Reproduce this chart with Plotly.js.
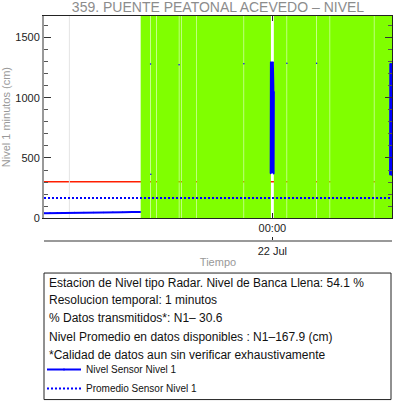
<!DOCTYPE html>
<html><head><meta charset="utf-8">
<script src="https://cdn.plot.ly/plotly-3.0.1.min.js"></script>
<style>html,body{margin:0;padding:0;background:#fff}#chart{width:394px;height:404px}</style>
</head><body><div id="chart"></div>
<script>
const chartTitle = '359. PUENTE PEATONAL ACEVEDO – NIVEL';
const timeRange = ['2024-07-21 08:15', '2024-07-22 08:15'];
const tickTimes = ['2024-07-22 00:00'];
const tickHour = ['00:00'];
const tickDay = ['22 Jul'];
const levelTicks = [0, 500, 1000, 1500];
const levelRange = [0, 1678];

const sensorTimes = [
  '2024-07-21 08:15','2024-07-21 08:40','2024-07-21 09:10','2024-07-21 09:40','2024-07-21 10:20',
  '2024-07-21 11:00','2024-07-21 11:40','2024-07-21 12:20','2024-07-21 13:00','2024-07-21 13:40',
  '2024-07-21 14:20','2024-07-21 14:54','2024-07-21 14:56',
  '2024-07-21 15:36','2024-07-21 15:36:30','2024-07-21 15:37','2024-07-21 15:38',
  '2024-07-21 17:34','2024-07-21 17:35',
  '2024-07-21 22:02','2024-07-21 22:03',
  '2024-07-21 23:53','2024-07-21 23:54','2024-07-21 23:55','2024-07-21 23:56','2024-07-21 23:57',
  '2024-07-21 23:58','2024-07-21 23:59','2024-07-22 00:00','2024-07-22 00:01','2024-07-22 00:02',
  '2024-07-22 00:03','2024-07-22 00:04','2024-07-22 00:05','2024-07-22 00:06','2024-07-22 00:07',
  '2024-07-22 01:00','2024-07-22 01:01',
  '2024-07-22 03:03','2024-07-22 03:04',
  '2024-07-22 08:07','2024-07-22 08:08','2024-07-22 08:09','2024-07-22 08:10','2024-07-22 08:11',
  '2024-07-22 08:12','2024-07-22 08:13','2024-07-22 08:14','2024-07-22 08:15'
];
const sensorLevels = [
  42, 43, 45, 46, 47,
  47, 48, 48, 49, 50,
  51, 52, null,
  1279, null, 364, null,
  1273, null,
  1281, null,
  372, 1297, 380, 1240, 420,
  1290, 560, 1180, 380, 1297,
  600, 1100, 370, 1050, null,
  1287, null,
  1285, null,
  360, 1281, 365, 1270, 400,
  1281, 358, 1200, 380
];
const meanLevel = 167.9;
const bankFullLevel = 303;

const missingStarts = [
  '2024-07-21 14:55','2024-07-21 15:37','2024-07-21 16:02','2024-07-21 17:35','2024-07-21 17:46',
  '2024-07-21 18:48','2024-07-21 22:03','2024-07-22 00:06','2024-07-22 01:01','2024-07-22 03:04',
  '2024-07-22 03:59','2024-07-22 07:02'
];
const missingEnds = [
  '2024-07-21 15:35','2024-07-21 16:00','2024-07-21 17:33','2024-07-21 17:44','2024-07-21 18:46',
  '2024-07-21 22:01','2024-07-21 23:54','2024-07-22 00:59','2024-07-22 03:02','2024-07-22 03:57',
  '2024-07-22 07:00','2024-07-22 08:15'
];
const markTimes = ['2024-07-21 10:00'];

const infoLines = [
  'Estacion de Nivel tipo Radar. Nivel de Banca Llena: 54.1 %',
  'Resolucion temporal: 1 minutos',
  '% Datos transmitidos*: N1– 30.6',
  'Nivel Promedio en datos disponibles : N1–167.9 (cm)',
  '*Calidad de datos aun sin verificar exhaustivamente'
];
const seriesNames = ['Nivel Sensor Nivel 1', 'Promedio Sensor Nivel 1'];

const FONT = '"Liberation Sans", Arial, Helvetica, sans-serif';
const GRAY = '#999999';

// geometry helpers (paper coords: x 44..392 px, y 16..284 px)
const px2x = p => (p - 44) / 348;
const px2y = p => (284 - p) / 268;

const traces = [
  {
    type: 'scatter', mode: 'lines+markers', name: seriesNames[0],
    x: sensorTimes, y: sensorLevels,
    line: {color: '#0000ff', width: 2}, marker: {color: '#0000ff', size: 1.5},
    connectgaps: false, hoverinfo: 'x+y'
  },
  {
    type: 'scatter', mode: 'lines', name: seriesNames[1],
    x: timeRange, y: [meanLevel, meanLevel],
    line: {color: '#0000ff', width: 2, dash: '2px,2px'}
  },
  {
    type: 'scatter', mode: 'lines', x: [timeRange[0]], y: [null],
    xaxis: 'x2', yaxis: 'y2', showlegend: false, hoverinfo: 'skip'
  }
];

const shapes = [];
shapes.push({type: 'line', xref: 'x', yref: 'y', layer: 'below',
  x0: timeRange[0], x1: timeRange[1], y0: bankFullLevel, y1: bankFullLevel,
  line: {color: 'rgb(255,30,0)', width: 1.5}});
markTimes.forEach(t => shapes.push({type: 'line', xref: 'x', yref: 'y', layer: 'below',
  x0: t, x1: t, y0: levelRange[0], y1: levelRange[1], line: {color: '#e4e4e4', width: 1}}));
missingStarts.forEach((s, i) => shapes.push({type: 'rect', xref: 'x', yref: 'y', layer: 'below',
  x0: s, x1: missingEnds[i], y0: levelRange[0], y1: levelRange[1],
  fillcolor: 'rgb(128,255,0)', line: {width: 0}}));
// info box
shapes.push({type: 'rect', xref: 'paper', yref: 'paper',
  x0: px2x(44), x1: px2x(391), y0: px2y(274), y1: px2y(401),
  line: {color: '#222', width: 1}, fillcolor: 'rgba(0,0,0,0)'});

const lineY = [283.5, 301.5, 319.5, 338, 356];
const annotations = infoLines.map((t, i) => ({
  text: t, xref: 'paper', yref: 'paper', x: px2x(47), y: px2y(lineY[i]),
  xanchor: 'left', yanchor: 'middle', showarrow: false,
  font: {family: FONT, size: 12, color: '#111'}
}));

const layout = {
  width: 394, height: 404,
  margin: {l: 44, r: 2, t: 16, b: 120, pad: 0},
  paper_bgcolor: '#fff', plot_bgcolor: '#fff',
  font: {family: FONT, size: 11, color: '#222'},
  title: {text: chartTitle, font: {family: FONT, size: 14, color: '#8c8c8c'},
    xref: 'paper', x: 0.5, xanchor: 'center', yref: 'container', y: 1 - 7/404, yanchor: 'middle'},
  showlegend: true,
  legend: {x: px2x(42), xanchor: 'left', y: px2y(355), yanchor: 'top',
    font: {family: FONT, size: 10, color: '#111'}, bgcolor: 'rgba(0,0,0,0)',
    borderwidth: 0, tracegroupgap: 0, itemwidth: 34},
  xaxis: {type: 'date', range: timeRange, domain: [0, 1], anchor: 'y',
    showline: true, linecolor: '#222', linewidth: 1, mirror: 'ticks',
    ticks: 'inside', ticklen: 5, tickcolor: '#222', tickmode: 'array',
    tickvals: tickTimes, ticktext: tickHour, showgrid: false, zeroline: false,
    tickfont: {size: 11, color: '#222'}},
  xaxis2: {type: 'date', range: timeRange, overlaying: 'x', anchor: 'free', position: px2y(242),
    showline: true, linecolor: GRAY, linewidth: 2,
    ticks: 'inside', ticklen: 3, tickcolor: '#222', tickmode: 'array',
    tickvals: tickTimes, ticktext: tickDay, showgrid: false, zeroline: false,
    tickfont: {size: 11, color: '#222'},
    title: {text: 'Tiempo', font: {size: 11, color: GRAY}, standoff: 1}},
  yaxis: {range: levelRange, domain: [px2y(219), 1], anchor: 'x',
    showline: true, linecolor: GRAY, linewidth: 2,
    ticks: 'inside', ticklen: 7, tickcolor: '#333', tickmode: 'array', tickvals: levelTicks,
    minor: {dtick: 100, tick0: 0, ticks: 'inside', ticklen: 4, tickcolor: '#555', showgrid: false},
    showgrid: false, zeroline: false, tickfont: {size: 11, color: '#222'},
    title: {text: 'Nivel 1 minutos (cm)', font: {size: 11, color: GRAY}, standoff: 3}},
  yaxis2: {range: levelRange, overlaying: 'y', side: 'right', anchor: 'x',
    showline: true, linecolor: '#222', linewidth: 1,
    ticks: 'inside', ticklen: 7, tickcolor: '#333', tickmode: 'array', tickvals: levelTicks,
    minor: {dtick: 100, tick0: 0, ticks: 'inside', ticklen: 4, tickcolor: '#555', showgrid: false},
    showticklabels: false, showgrid: false, zeroline: false},
  shapes: shapes,
  annotations: annotations
};

Plotly.newPlot('chart', traces, layout, {displayModeBar: false, staticPlot: true});
</script>
</body></html>
